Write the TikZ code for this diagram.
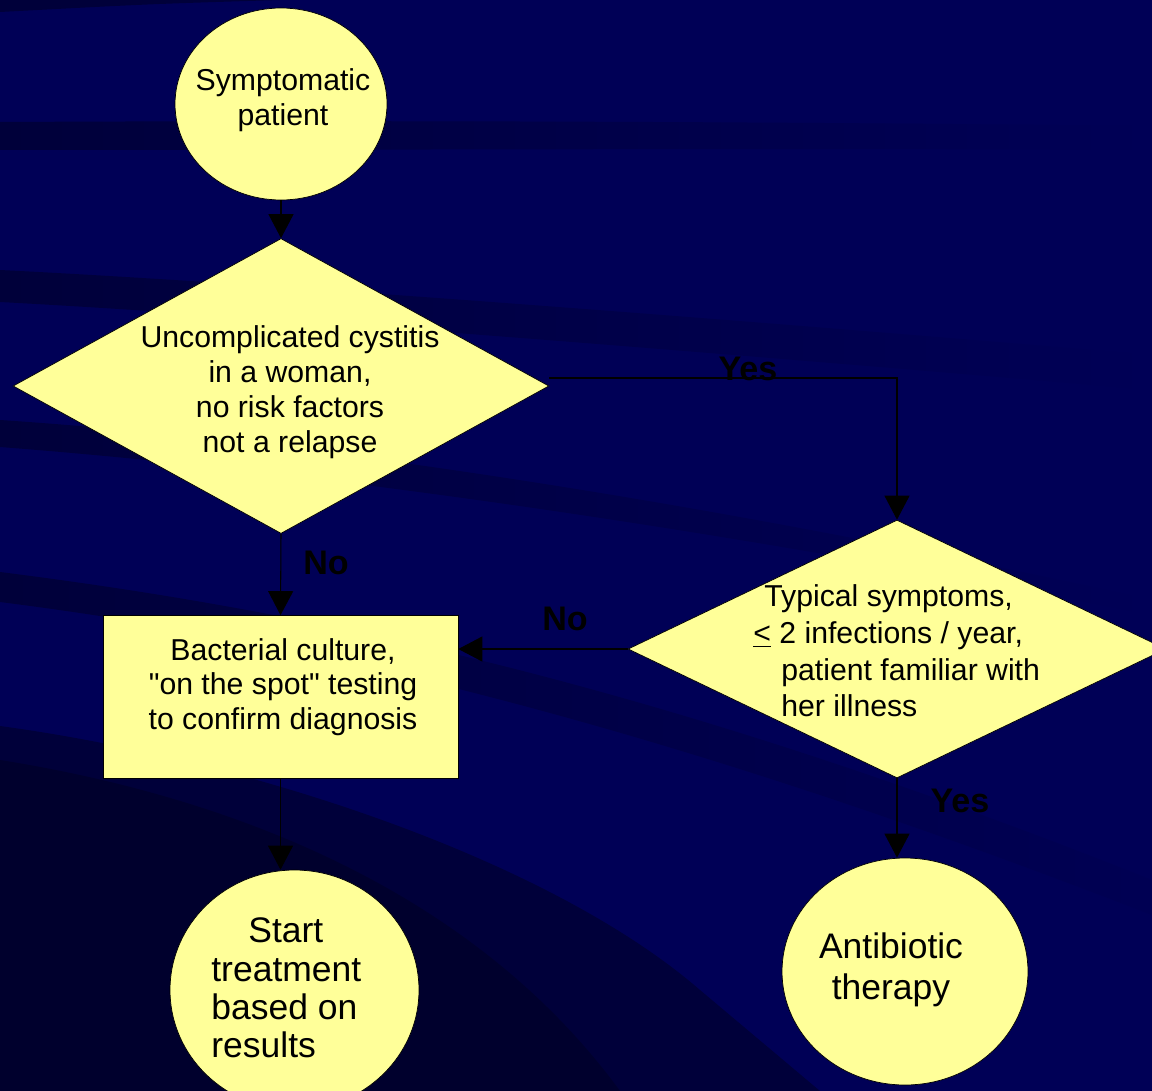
\documentclass[tikz,border=0pt]{standalone}
\usepackage{fontspec}
\setmainfont{Liberation Sans}
\usetikzlibrary{shapes.geometric,arrows.meta}

\definecolor{bgblue}{RGB}{0,0,86}
\definecolor{bgstripe}{RGB}{0,0,58}
\definecolor{bgdeep}{RGB}{0,0,45}
\definecolor{boxyellow}{RGB}{255,255,153}

\newcommand{\dquote}{\XeTeXglyph\XeTeXcharglyph"22\relax}

\begin{document}
\begin{tikzpicture}[x=0.02cm,y=-0.02cm,
		shapebox/.style={draw=black,line width=0.4pt,fill=boxyellow,inner sep=0pt},
		oval/.style={shapebox,ellipse},
		decision/.style={shapebox,diamond},
		txt/.style={font=\fontsize{17.2}{20}\selectfont,inner sep=0pt},
		bigtxt/.style={font=\fontsize{20.2}{21.8}\selectfont,inner sep=0pt},
		answer/.style={font=\fontsize{19.4}{22}\selectfont\bfseries,inner sep=0pt},
		link/.style={line width=0.6pt,-{Triangle[length=0.48cm,width=0.5cm]}}]

		\useasboundingbox (0,0) rectangle (1152,1091);
		\fill[bgblue] (0,0) rectangle (1152,1091);

		% background bands
		\fill[bgstripe] (0,0) -- (280,0) .. controls (150,4) .. (0,12) -- cycle;
		\shade[left color=bgstripe,right color=bgblue] (0,122) .. controls (400,120) and (800,122) .. (1152,126) -- (1152,150) .. controls (800,148) and (400,150) .. (0,150) -- cycle;
		\shade[left color=bgstripe,right color=bgblue] (0,270) .. controls (300,285) and (800,325) .. (1152,355) -- (1152,390) .. controls (800,360) and (300,318) .. (0,302) -- cycle;
		\shade[left color=bgstripe,right color=bgblue] (0,420) .. controls (300,440) and (700,500) .. (1152,600) -- (1152,615) .. controls (700,525) and (300,470) .. (0,447) -- cycle;
		\shade[left color=bgstripe,right color=bgblue!90!bgstripe] (0,572) .. controls (300,610) and (650,680) .. (1152,880) -- (1152,915) .. controls (650,720) and (300,640) .. (0,602) -- cycle;
		\fill[bgstripe] (0,726) .. controls (250,760) and (550,860) .. (700,990) .. controls (760,1040) .. (820,1091) -- (0,1091) -- cycle;
		\fill[bgdeep] (0,760) .. controls (250,800) and (480,900) .. (620,1091) -- (0,1091) -- cycle;

		% shapes
		\node[oval,minimum width=4.24cm,minimum height=3.84cm] (sym) at (281,104) {};
		\node[txt,align=center] (symtxt) at (283,100) {Symptomatic\\patient};

		\node[decision,minimum width=10.72cm,minimum height=5.9cm] (cyst) at (281,386) {};
		\node[txt,align=center] (cysttxt) at (290,392) {Uncomplicated cystitis\\in a woman,\\no risk factors\\not a relapse};

		\node[shapebox,rectangle,minimum width=7.1cm,minimum height=3.26cm] (cult) at (280.5,697) {};
		\node[txt,align=center,font=\fontsize{17.2}{19.6}\selectfont] (culttxt) at (283,687) {Bacterial culture,\\\dquote on the spot\dquote{} testing\\to confirm diagnosis};

		\node[decision,minimum width=10.76cm,minimum height=5.16cm] (typ) at (897,649) {};
		\node[txt,align=left,anchor=west,font=\fontsize{17.2}{20.8}\selectfont] (typtxt) at (753,651) {\hspace*{0.22cm}Typical symptoms,\\\underline{<} 2 infections / year,\\\hspace*{0.56cm}patient familiar with\\\hspace*{0.56cm}her illness};

		\node[oval,minimum width=4.98cm,minimum height=4.8cm] (start) at (294.5,990) {};
		\node[bigtxt,align=left,anchor=west] (starttxt) at (211,988) {\hspace*{0.74cm}Start\\treatment\\based on\\results};

		\node[oval,minimum width=4.92cm,minimum height=4.54cm] (abx) at (905,971.5) {};
		\node[bigtxt,align=center,font=\fontsize{20.2}{23.3}\selectfont] (abxtxt) at (891,970) {Antibiotic\\therapy};

		% connectors
		\draw[link] (sym.south) -- (cyst.north);
		\draw[link] ([yshift=0.16cm]cyst.east) -| (typ.north);
		\draw[link] (cyst.south) -- (cult.north);
		\draw[link] (typ.west) -- (typ.west -| cult.east);
		\draw[link] (cult.south) -- (cult.south |- start.north);
		\draw[link] (typ.south) -- (typ.south |- abx.north);

		% answers
		\node[answer] (yes1) at (748,369) {Yes};
		\node[answer] (no1) at (326,563) {No};
		\node[answer] (no2) at (565,619) {No};
		\node[answer] (yes2) at (960,801) {Yes};
\end{tikzpicture}
\end{document}
